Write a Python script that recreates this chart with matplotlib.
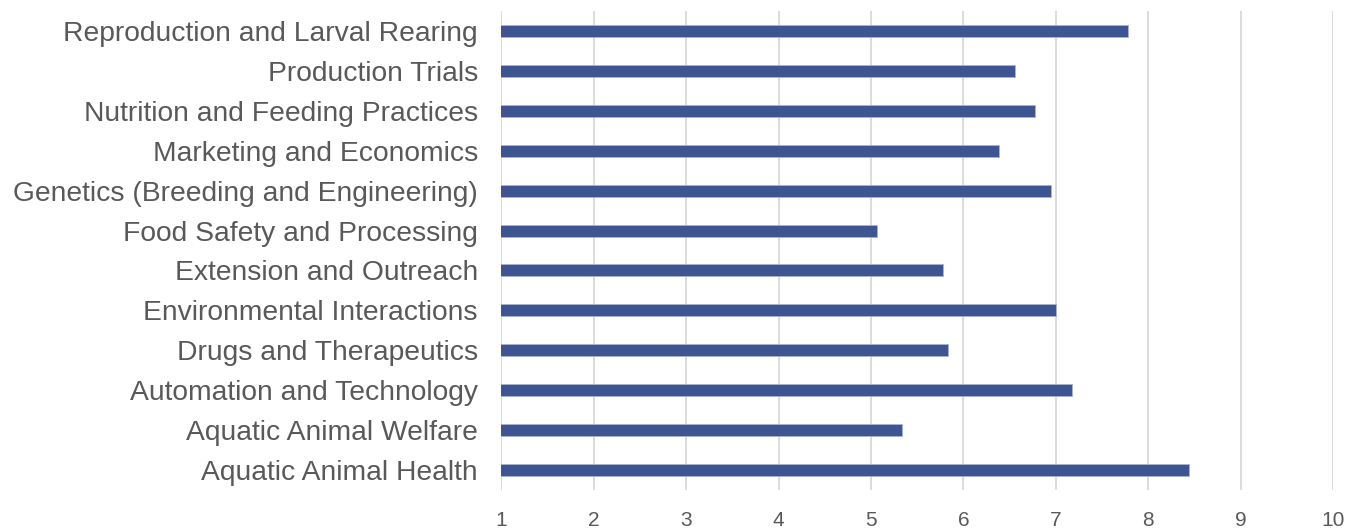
import matplotlib
matplotlib.use("Agg")
import matplotlib.pyplot as plt

categories = [
    "Aquatic Animal Health",
    "Aquatic Animal Welfare",
    "Automation and Technology",
    "Drugs and Therapeutics",
    "Environmental Interactions",
    "Extension and Outreach",
    "Food Safety and Processing",
    "Genetics (Breeding and Engineering)",
    "Marketing and Economics",
    "Nutrition and Feeding Practices",
    "Production Trials",
    "Reproduction and Larval Rearing",
]
scores = [8.44, 5.34, 7.17, 5.83, 7.00, 5.78, 5.06, 6.95, 6.39, 6.78, 6.56, 7.78]
xticks = [1, 2, 3, 4, 5, 6, 7, 8, 9, 10]

plt.rcParams['font.family'] = ['Liberation Sans', 'DejaVu Sans']

fig = plt.figure(figsize=(13.48, 5.29), dpi=100)
ax = fig.add_axes([501.4 / 1348, 39 / 529, (1333 - 501.4) / 1348, 479 / 529])

ypos = range(len(categories))
ax.barh(ypos, scores, height=0.3, color='#3F5591', edgecolor='#a9b4d4',
        linewidth=0.6, zorder=3)

ax.set_xlim(1, 10)
ax.set_ylim(-0.5, len(categories) - 0.5)
ax.set_xticks(xticks)
ax.set_yticks(list(ypos))
ax.set_yticklabels(categories, fontsize=20.3, color='#595959')
ax.tick_params(axis='x', labelsize=15, colors='#595959', length=0, pad=15)
ax.tick_params(axis='y', length=0, pad=17)
ax.grid(axis='x', color='#d9d9d9', linewidth=1.3, zorder=0)
for s in ax.spines.values():
    s.set_visible(False)

fig.savefig("out.png", dpi=100, facecolor='white')
